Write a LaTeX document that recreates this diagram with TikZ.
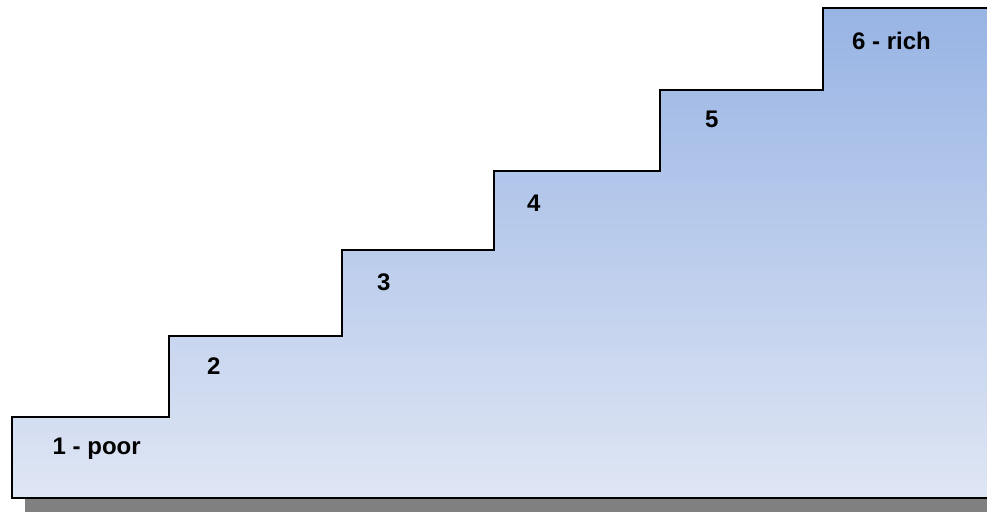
\documentclass[tikz,border=0pt]{standalone}
\usepackage{fontspec}
\setmainfont{Liberation Sans}
\definecolor{stairtop}{RGB}{152,180,228}
\definecolor{stairbot}{RGB}{223,230,244}
\definecolor{shadowgray}{RGB}{128,128,128}
\begin{document}
\begin{tikzpicture}[x=1pt,y=-1pt,
  lbl/.style={font=\bfseries\fontsize{24}{28}\selectfont, anchor=base west, inner sep=0pt, text=black},
  stairline/.style={draw=black, line width=2pt, line join=miter}]
\useasboundingbox (0,0) rectangle (987,511);
\begin{scope}
\clip (0,0) rectangle (987,511);
% shadow
\fill[shadowgray] (25,497) rectangle (995,520);
% staircase
\path[stairline, top color=stairtop, bottom color=stairbot]
  (12,498) -- (12,417) -- (169,417) -- (169,336) -- (342,336) -- (342,250)
  -- (494,250) -- (494,171) -- (660,171) -- (660,90) -- (823,90) -- (823,8)
  -- (992,8) -- (992,498) -- cycle;
\end{scope}
\node[lbl] (s1) at (52.5,454) {1 - poor};
\node[lbl] (s2) at (207,374) {2};
\node[lbl] (s3) at (377,290) {3};
\node[lbl] (s4) at (527,211.5) {4};
\node[lbl] (s5) at (705,127.5) {5};
\node[lbl] (s6) at (852,49.5) {6 - rich};
\end{tikzpicture}
\end{document}
